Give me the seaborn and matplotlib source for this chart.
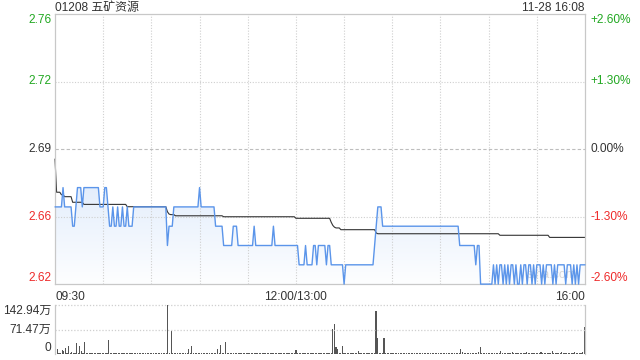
import numpy as np
import matplotlib
matplotlib.use("Agg")
import matplotlib.pyplot as plt
import seaborn as sns
from matplotlib.colors import LinearSegmentedColormap

# ---------------- data ----------------
title_text = "01208 五矿资源"
timestamp_text = "11-28 16:08"
prev_close = 2.69
pct_step = 0.013
left_labels = ["2.62", "2.66", "2.69", "2.72", "2.76"]
right_labels = ["-2.60%", "-1.30%", "0.00%", "+1.30%", "+2.60%"]
time_labels = ["09:30", "12:00/13:00", "16:00"]
time_label_minutes = [0, 150, 330]
vol_labels = ["0", "71.47万", "142.94万"]
vol_max = 142.94

# one value per trading minute (09:30 .. 16:00, 331 points)
price = [
    2.66, 2.66, 2.66, 2.66, 2.66, 2.67, 2.66, 2.66, 2.66, 2.66,
    2.66, 2.65, 2.65, 2.66, 2.67, 2.67, 2.67, 2.66, 2.67, 2.67,
    2.67, 2.67, 2.67, 2.67, 2.67, 2.67, 2.67, 2.67, 2.66, 2.66,
    2.66, 2.67, 2.67, 2.66, 2.65, 2.65, 2.66, 2.65, 2.65, 2.66,
    2.65, 2.65, 2.66, 2.65, 2.65, 2.66, 2.65, 2.65, 2.65, 2.66,
    2.66, 2.66, 2.66, 2.66, 2.66, 2.66, 2.66, 2.66, 2.66, 2.66,
    2.66, 2.66, 2.66, 2.66, 2.66, 2.66, 2.66, 2.66, 2.66, 2.66,
    2.64, 2.65, 2.65, 2.65, 2.66, 2.66, 2.66, 2.66, 2.66, 2.66,
    2.66, 2.66, 2.66, 2.66, 2.66, 2.66, 2.66, 2.66, 2.66, 2.66,
    2.67, 2.66, 2.66, 2.66, 2.66, 2.66, 2.66, 2.66, 2.66, 2.66,
    2.65, 2.65, 2.65, 2.65, 2.65, 2.64, 2.64, 2.64, 2.64, 2.64,
    2.64, 2.65, 2.65, 2.65, 2.64, 2.64, 2.64, 2.64, 2.64, 2.64,
    2.64, 2.64, 2.64, 2.64, 2.65, 2.64, 2.64, 2.64, 2.64, 2.64,
    2.64, 2.64, 2.64, 2.64, 2.64, 2.64, 2.65, 2.64, 2.64, 2.64,
    2.64, 2.64, 2.64, 2.64, 2.64, 2.64, 2.64, 2.64, 2.64, 2.64,
    2.64, 2.64, 2.63, 2.63, 2.63, 2.63, 2.64, 2.63, 2.63, 2.63,
    2.63, 2.64, 2.64, 2.63, 2.64, 2.64, 2.64, 2.64, 2.64, 2.63,
    2.64, 2.64, 2.63, 2.63, 2.63, 2.63, 2.63, 2.63, 2.63, 2.63,
    2.62, 2.63, 2.63, 2.63, 2.63, 2.63, 2.63, 2.63, 2.63, 2.63,
    2.63, 2.63, 2.63, 2.63, 2.63, 2.63, 2.63, 2.63, 2.63, 2.64,
    2.65, 2.66, 2.66, 2.66, 2.65, 2.65, 2.65, 2.65, 2.65, 2.65,
    2.65, 2.65, 2.65, 2.65, 2.65, 2.65, 2.65, 2.65, 2.65, 2.65,
    2.65, 2.65, 2.65, 2.65, 2.65, 2.65, 2.65, 2.65, 2.65, 2.65,
    2.65, 2.65, 2.65, 2.65, 2.65, 2.65, 2.65, 2.65, 2.65, 2.65,
    2.65, 2.65, 2.65, 2.65, 2.65, 2.65, 2.65, 2.65, 2.65, 2.65,
    2.65, 2.65, 2.64, 2.64, 2.64, 2.64, 2.64, 2.64, 2.64, 2.64,
    2.64, 2.64, 2.63, 2.64, 2.64, 2.62, 2.62, 2.62, 2.62, 2.62,
    2.62, 2.62, 2.62, 2.63, 2.62, 2.63, 2.62, 2.63, 2.63, 2.62,
    2.63, 2.62, 2.63, 2.62, 2.63, 2.63, 2.62, 2.63, 2.62, 2.62,
    2.63, 2.62, 2.63, 2.63, 2.62, 2.63, 2.63, 2.62, 2.63, 2.62,
    2.63, 2.63, 2.63, 2.62, 2.63, 2.62, 2.63, 2.63, 2.63, 2.63,
    2.62, 2.63, 2.62, 2.63, 2.63, 2.63, 2.63, 2.63, 2.62, 2.63,
    2.63, 2.63, 2.62, 2.63, 2.62, 2.63, 2.62, 2.63, 2.63, 2.63,
    2.63,
]

avg_price = [
    2.6848, 2.6676, 2.6676, 2.6676, 2.6663, 2.6663, 2.6653, 2.6653, 2.6653, 2.6653,
    2.6653, 2.6624, 2.6624, 2.6624, 2.6624, 2.6624, 2.6624, 2.6624, 2.6613, 2.6613,
    2.6613, 2.6613, 2.6613, 2.6613, 2.6613, 2.6613, 2.6613, 2.6613, 2.6613, 2.6613,
    2.6613, 2.6613, 2.6613, 2.6613, 2.6613, 2.6613, 2.6613, 2.6613, 2.6613, 2.6613,
    2.6613, 2.6613, 2.6613, 2.6613, 2.6613, 2.6601, 2.6601, 2.6601, 2.6601, 2.6601,
    2.6601, 2.6601, 2.6601, 2.6601, 2.6601, 2.6601, 2.6601, 2.6601, 2.6601, 2.6601,
    2.6601, 2.6601, 2.6601, 2.6601, 2.6601, 2.6601, 2.6601, 2.6601, 2.6601, 2.6601,
    2.6575, 2.6563, 2.6560, 2.6560, 2.6560, 2.6554, 2.6554, 2.6554, 2.6554, 2.6554,
    2.6554, 2.6554, 2.6554, 2.6554, 2.6554, 2.6554, 2.6554, 2.6554, 2.6554, 2.6554,
    2.6554, 2.6554, 2.6554, 2.6554, 2.6554, 2.6554, 2.6554, 2.6554, 2.6554, 2.6554,
    2.6554, 2.6554, 2.6554, 2.6554, 2.6554, 2.6549, 2.6549, 2.6549, 2.6549, 2.6549,
    2.6549, 2.6549, 2.6549, 2.6549, 2.6549, 2.6549, 2.6549, 2.6549, 2.6549, 2.6549,
    2.6549, 2.6549, 2.6549, 2.6549, 2.6549, 2.6549, 2.6549, 2.6549, 2.6549, 2.6549,
    2.6549, 2.6549, 2.6549, 2.6549, 2.6549, 2.6549, 2.6549, 2.6549, 2.6549, 2.6549,
    2.6549, 2.6549, 2.6549, 2.6549, 2.6549, 2.6549, 2.6549, 2.6549, 2.6549, 2.6549,
    2.6541, 2.6541, 2.6541, 2.6541, 2.6541, 2.6541, 2.6541, 2.6541, 2.6541, 2.6541,
    2.6541, 2.6541, 2.6541, 2.6541, 2.6541, 2.6541, 2.6541, 2.6541, 2.6541, 2.6541,
    2.6541, 2.6541, 2.6520, 2.6504, 2.6495, 2.6491, 2.6491, 2.6491, 2.6482, 2.6482,
    2.6482, 2.6482, 2.6482, 2.6482, 2.6482, 2.6482, 2.6482, 2.6482, 2.6482, 2.6482,
    2.6482, 2.6482, 2.6482, 2.6482, 2.6482, 2.6482, 2.6482, 2.6482, 2.6482, 2.6482,
    2.6465, 2.6461, 2.6461, 2.6461, 2.6461, 2.6461, 2.6461, 2.6461, 2.6461, 2.6461,
    2.6461, 2.6461, 2.6461, 2.6461, 2.6461, 2.6461, 2.6461, 2.6461, 2.6461, 2.6461,
    2.6461, 2.6461, 2.6461, 2.6461, 2.6461, 2.6461, 2.6461, 2.6461, 2.6461, 2.6461,
    2.6461, 2.6461, 2.6461, 2.6461, 2.6461, 2.6461, 2.6461, 2.6461, 2.6461, 2.6461,
    2.6461, 2.6461, 2.6461, 2.6461, 2.6461, 2.6461, 2.6461, 2.6461, 2.6461, 2.6461,
    2.6461, 2.6461, 2.6461, 2.6461, 2.6461, 2.6461, 2.6461, 2.6461, 2.6461, 2.6461,
    2.6461, 2.6461, 2.6461, 2.6461, 2.6461, 2.6461, 2.6461, 2.6461, 2.6461, 2.6461,
    2.6461, 2.6461, 2.6461, 2.6461, 2.6461, 2.6461, 2.6461, 2.6453, 2.6453, 2.6453,
    2.6453, 2.6453, 2.6453, 2.6453, 2.6453, 2.6453, 2.6453, 2.6453, 2.6453, 2.6453,
    2.6453, 2.6453, 2.6453, 2.6453, 2.6453, 2.6453, 2.6453, 2.6453, 2.6453, 2.6453,
    2.6453, 2.6453, 2.6453, 2.6453, 2.6453, 2.6453, 2.6453, 2.6453, 2.6442, 2.6442,
    2.6442, 2.6442, 2.6442, 2.6442, 2.6442, 2.6442, 2.6442, 2.6442, 2.6442, 2.6442,
    2.6442, 2.6442, 2.6442, 2.6442, 2.6442, 2.6442, 2.6442, 2.6442, 2.6442, 2.6442,
    2.6442,
]

# volume per minute, in 万 shares
volume = [
    36, 16, 4, 3, 12, 10, 18, 4, 23, 3,
    5, 3, 4, 33, 3, 23, 8, 3, 36, 3,
    3, 2, 3, 2, 4, 2, 3, 2, 3, 2,
    2, 3, 2, 41, 3, 2, 3, 2, 2, 3,
    2, 2, 3, 2, 4, 2, 2, 3, 2, 2,
    3, 2, 2, 4, 2, 3, 2, 2, 3, 2,
    2, 3, 2, 2, 3, 2, 2, 4, 2, 2,
    142.94, 3, 68, 4, 3, 2, 3, 2, 2, 3,
    2, 3, 2, 15, 3, 23, 2, 3, 2, 4,
    3, 2, 2, 3, 2, 4, 2, 3, 2, 3,
    2, 14, 3, 26, 2, 3, 36, 3, 2, 3,
    2, 3, 2, 2, 4, 2, 2, 3, 2, 2,
    3, 2, 2, 3, 2, 2, 4, 2, 2, 3,
    2, 2, 3, 2, 2, 3, 2, 4, 2, 2,
    3, 2, 2, 3, 2, 2, 4, 2, 3, 2,
    12, 2, 3, 2, 2, 4, 2, 3, 2, 2,
    3, 2, 2, 3, 2, 2, 3, 2, 2, 3,
    2, 3, 2, 73, 87.5, 19.5, 15, 3, 4, 23,
    3, 2, 3, 2, 2, 3, 2, 2, 4, 9,
    2, 3, 2, 2, 3, 2, 2, 3, 2, 3,
    125, 46, 3, 4, 3, 47.5, 3, 2, 3, 2,
    2, 3, 2, 2, 3, 2, 2, 3, 2, 2,
    3, 2, 2, 3, 2, 2, 3, 2, 2, 3,
    2, 2, 3, 2, 2, 3, 2, 2, 3, 2,
    2, 3, 2, 2, 3, 2, 2, 3, 2, 4,
    3, 2, 4, 14.6, 5, 3, 2, 3, 2, 3,
    2, 3, 2, 4, 5, 20, 4, 3, 2, 3,
    2, 3, 2, 3, 4, 2, 3, 2, 10, 3,
    2, 3, 4, 2, 3, 5, 2, 3, 4, 2,
    3, 4, 2, 3, 5, 2, 3, 4, 2, 3,
    4, 2, 3, 5, 2, 3, 4, 2, 3, 4,
    10, 3, 2, 4, 3, 2, 5, 3, 4, 2,
    3, 4, 2, 3, 5, 3, 2, 4, 3, 5,
    78,
]

minutes = np.arange(len(price))

# ---------------- style ----------------
sns.set_theme(style="white")
plt.rcParams["font.family"] = ["Liberation Sans", "Noto Sans CJK SC", "DejaVu Sans"]

GREEN = "#22a822"
RED = "#ee2a2a"
DARK = "#333333"
GRID = "#cfcfcf"
SPINE = "#c8c8c8"
BLUE = "#5b95ea"
FS = 8.6

fig = plt.figure(figsize=(6.4, 3.6), dpi=100)
W, H = 640.0, 360.0
ax = fig.add_axes([55 / W, 1 - 284 / H, 530 / W, 270 / H])
axv = fig.add_axes([55 / W, 1 - 354 / H, 530 / W, 49 / H])

lo = prev_close * (1 - 2 * pct_step)
hi = prev_close * (1 + 2 * pct_step)
tick_vals = [prev_close * (1 + k * pct_step) for k in (-2, -1, 0, 1, 2)]
n_last = len(price) - 1

# gradient fill under price line
poly = ax.fill_between(minutes, price, lo, color="none", linewidth=0)
grad = np.linspace(1, 0, 256).reshape(-1, 1)
cmap = LinearSegmentedColormap.from_list("g", ["#fdfeff", "#e4eefc"])
im = ax.imshow(grad, extent=[0, n_last, lo, max(price)], aspect="auto",
               cmap=cmap, origin="upper", zorder=0.5)
im.set_clip_path(poly.get_paths()[0], transform=ax.transData)

# grid lines
for m in range(30, n_last, 30):
    ax.axvline(m, color=GRID, linestyle=(0, (1, 1.5)), linewidth=0.8, zorder=0.6)
for v in (tick_vals[1], tick_vals[3]):
    ax.axhline(v, color=GRID, linestyle=(0, (1, 1.5)), linewidth=0.8, zorder=0.6)
ax.axhline(prev_close, color="#bdbdbd", linestyle=(0, (3, 2)), linewidth=0.8, zorder=0.6)

sns.lineplot(x=minutes, y=price, ax=ax, color=BLUE, linewidth=1.0, zorder=3)
sns.lineplot(x=minutes, y=avg_price, ax=ax, color=DARK, linewidth=0.8, zorder=2)
for ln in ax.lines[-2:]:
    ln.set_clip_on(False)

ax.set_xlim(0, n_last)
ax.set_ylim(lo, hi)
ax.set_yticks([])
ax.set_xticks([])
ax.set_xlabel("")
ax.set_ylabel("")
for s in ax.spines.values():
    s.set_color(SPINE)
    s.set_linewidth(0.9)

colors = [RED, RED, DARK, GREEN, GREEN]
vas = ["bottom", "center", "center", "center", "top"]
ytr = ax.get_yaxis_transform()
for v, lab_l, lab_r, c, va in zip(tick_vals, left_labels, right_labels, colors, vas):
    ax.text(-0.007, v, lab_l, transform=ytr, ha="right", va=va, color=c, fontsize=FS)
    ax.text(1.010, v, lab_r, transform=ytr, ha="left", va=va, color=c, fontsize=FS)

xtr = ax.get_xaxis_transform()
for m, lab, ha in zip(time_label_minutes, time_labels, ["left", "center", "right"]):
    ax.text(m, -0.025, lab, transform=xtr, ha=ha, va="top", color=DARK, fontsize=FS)

ax.text(0.938, 0.012, "sina.com", transform=ax.transAxes, ha="center", va="bottom",
        color="#d8d8d8", fontsize=9, zorder=1)

fig.text(55 / W, 1 - 8 / H, title_text, ha="left", va="center", color=DARK, fontsize=FS)
fig.text(584 / W, 1 - 8 / H, timestamp_text, ha="right", va="center", color=DARK, fontsize=FS)

# ---------------- volume panel ----------------
axv.bar(minutes, volume, width=0.7, color="#555555", linewidth=0)
axv.axhline(vol_max, color=GRID, linestyle=(0, (1, 1.5)), linewidth=0.9, clip_on=False)
axv.axhline(vol_max / 2, color=GRID, linestyle=(0, (1, 1.5)), linewidth=0.9)
axv.set_xlim(-0.5, n_last + 0.5)
axv.set_ylim(0, vol_max)
axv.set_xticks([])
axv.set_yticks([])
for side in ("top", "bottom"):
    axv.spines[side].set_visible(False)
for side in ("left", "right"):
    axv.spines[side].set_color(SPINE)
    axv.spines[side].set_linewidth(0.9)
vtr = axv.get_yaxis_transform()
for v, lab, va in zip([0, vol_max / 2, vol_max], vol_labels, ["bottom", "center", "top"]):
    axv.text(-0.007, v, lab, transform=vtr, ha="right", va=va, color=DARK, fontsize=FS)

fig.savefig("out.png", dpi=100)
